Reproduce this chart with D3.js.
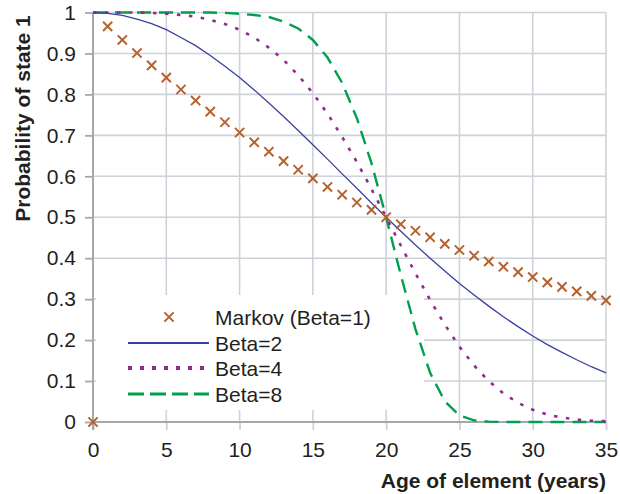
<!DOCTYPE html>
<html><head><meta charset="utf-8">
<script src="https://cdn.jsdelivr.net/npm/d3@7"></script>
<style>body{margin:0;background:#fff}svg{display:block}text{font-family:"Liberation Sans",Arial,sans-serif;fill:#231f20}</style>
</head><body><svg id="c" width="620" height="494"></svg>
<script>
const ages = d3.range(0, 36);
const markov = [0, 0.966, 0.933, 0.901, 0.871, 0.841, 0.812, 0.785, 0.758, 0.732, 0.707, 0.683, 0.660, 0.637, 0.616, 0.595, 0.574, 0.555, 0.536, 0.518, 0.500, 0.483, 0.467, 0.451, 0.435, 0.420, 0.406, 0.392, 0.379, 0.366, 0.354, 0.341, 0.330, 0.319, 0.308, 0.297];
const beta2 = [1, 0.998, 0.993, 0.984, 0.973, 0.958, 0.939, 0.919, 0.895, 0.869, 0.841, 0.811, 0.779, 0.746, 0.712, 0.677, 0.642, 0.606, 0.571, 0.535, 0.500, 0.466, 0.432, 0.400, 0.369, 0.338, 0.310, 0.283, 0.257, 0.233, 0.210, 0.189, 0.170, 0.152, 0.135, 0.120];
const beta4 = [1, 1, 1, 1, 0.999, 0.997, 0.994, 0.990, 0.982, 0.972, 0.958, 0.939, 0.914, 0.884, 0.847, 0.803, 0.753, 0.696, 0.635, 0.569, 0.500, 0.431, 0.363, 0.298, 0.238, 0.184, 0.138, 0.100, 0.070, 0.047, 0.030, 0.018, 0.011, 0.006, 0.003, 0.002];
const beta8 = [1, 1, 1, 1, 1, 1, 1, 1, 1, 0.999, 0.997, 0.994, 0.989, 0.978, 0.961, 0.933, 0.890, 0.828, 0.742, 0.632, 0.500, 0.359, 0.227, 0.120, 0.051, 0.016, 0.004, 0.001, 0, 0, 0, 0, 0, 0, 0, 0];
const xTicks = [0, 5, 10, 15, 20, 25, 30, 35];
const yTicks = [0, 0.1, 0.2, 0.3, 0.4, 0.5, 0.6, 0.7, 0.8, 0.9, 1];
const seriesNames = ["Markov (Beta=1)", "Beta=2", "Beta=4", "Beta=8"];

const svg = d3.select("#c");
const x = d3.scaleLinear().domain([0, 35]).range([93, 606]);
const y = d3.scaleLinear().domain([0, 1]).range([422, 12.5]);
const gridC = "#cfd2d8", axisC = "#a4a7ac";

// gridlines
const g = svg.append("g");
g.selectAll(".vg").data(xTicks.slice(1)).join("line")
  .attr("x1", d => x(d)).attr("x2", d => x(d)).attr("y1", y(1)).attr("y2", y(0))
  .attr("stroke", gridC).attr("stroke-width", 1.6);
g.selectAll(".hg").data(yTicks.slice(1)).join("line")
  .attr("x1", x(0)).attr("x2", x(35)).attr("y1", d => y(d)).attr("y2", d => y(d))
  .attr("stroke", gridC).attr("stroke-width", 1.6);

// legend background
svg.append("rect").attr("x", 96).attr("y", 295).attr("width", 328).attr("height", 115).attr("fill", "#fff");

// axes
const yAxis = svg.append("g").attr("transform", `translate(${x(0)},0)`)
  .call(d3.axisLeft(y).tickValues(yTicks).tickSize(8).tickPadding(9).tickFormat(d3.format("")));
const xAxis = svg.append("g").attr("transform", `translate(0,${y(0)})`)
  .call(d3.axisBottom(x).tickValues(xTicks).tickSize(8).tickPadding(12).tickFormat(d3.format("")));
[yAxis, xAxis].forEach(a => {
  a.select(".domain").remove();
  a.selectAll(".tick line").attr("stroke", axisC).attr("stroke-width", 1.8);
  a.selectAll(".tick text").attr("font-size", 21).attr("fill", "#231f20")
    .style("font-family", '"Liberation Sans", Arial, sans-serif');
});
xAxis.selectAll(".tick line").attr("stroke", (d) => d === 0 ? axisC : gridC);
svg.append("line").attr("x1", x(0)).attr("x2", x(0)).attr("y1", y(1)).attr("y2", y(0) + 8)
  .attr("stroke", axisC).attr("stroke-width", 2);
svg.append("line").attr("x1", x(0)).attr("x2", x(35)).attr("y1", y(0)).attr("y2", y(0))
  .attr("stroke", axisC).attr("stroke-width", 2);

// series
const line = d3.line().x((d, i) => x(ages[i])).y(d => y(d));
const styles = [
  null,
  {c: "#3a40a0", w: 1.3, dash: null},
  {c: "#8f2c90", w: 2.6, dash: "3.5,8.5"},
  {c: "#00a04f", w: 2.4, dash: "14,8"}
];
[beta8, beta4, beta2].forEach((s, k) => {
  const st = styles[3 - k];
  svg.append("path").datum(s).attr("d", line).attr("fill", "none")
    .attr("stroke", st.c).attr("stroke-width", st.w).attr("stroke-dasharray", st.dash);
});
const mC = "#b5622e";
function cross(sel, cx, cy) {
  const r = 4.6;
  sel.append("path").attr("d", `M${cx - r},${cy - r}L${cx + r},${cy + r}M${cx - r},${cy + r}L${cx + r},${cy - r}`)
    .attr("stroke", mC).attr("stroke-width", 2).attr("fill", "none");
}
const mg = svg.append("g");
markov.forEach((v, i) => cross(mg, x(ages[i]), y(v)));

// legend
const lg = svg.append("g");
const rows = [317, 343, 368, 394];
cross(lg, 169, rows[0]);
const legStyles = [null, {c: "#3a40a0", w: 2, dash: null}, {c: "#8f2c90", w: 4, dash: "4,8"}, {c: "#00a04f", w: 3, dash: "16,6"}];
[1, 2, 3].forEach(k => {
  lg.append("line").attr("x1", 128).attr("x2", 209).attr("y1", rows[k]).attr("y2", rows[k])
    .attr("stroke", legStyles[k].c).attr("stroke-width", legStyles[k].w).attr("stroke-dasharray", legStyles[k].dash);
});
seriesNames.forEach((n, k) => {
  lg.append("text").attr("x", 215).attr("y", rows[k]).attr("dy", "0.36em").attr("font-size", 21).text(n);
});

// titles
svg.append("text").attr("x", 606).attr("y", 488).attr("text-anchor", "end")
  .attr("font-size", 21).attr("font-weight", "bold").text("Age of element (years)");
svg.append("text").attr("transform", "translate(30,118.5) rotate(-90)").attr("text-anchor", "middle")
  .attr("font-size", 21).attr("font-weight", "bold").text("Probability of state 1");
</script></body></html>
